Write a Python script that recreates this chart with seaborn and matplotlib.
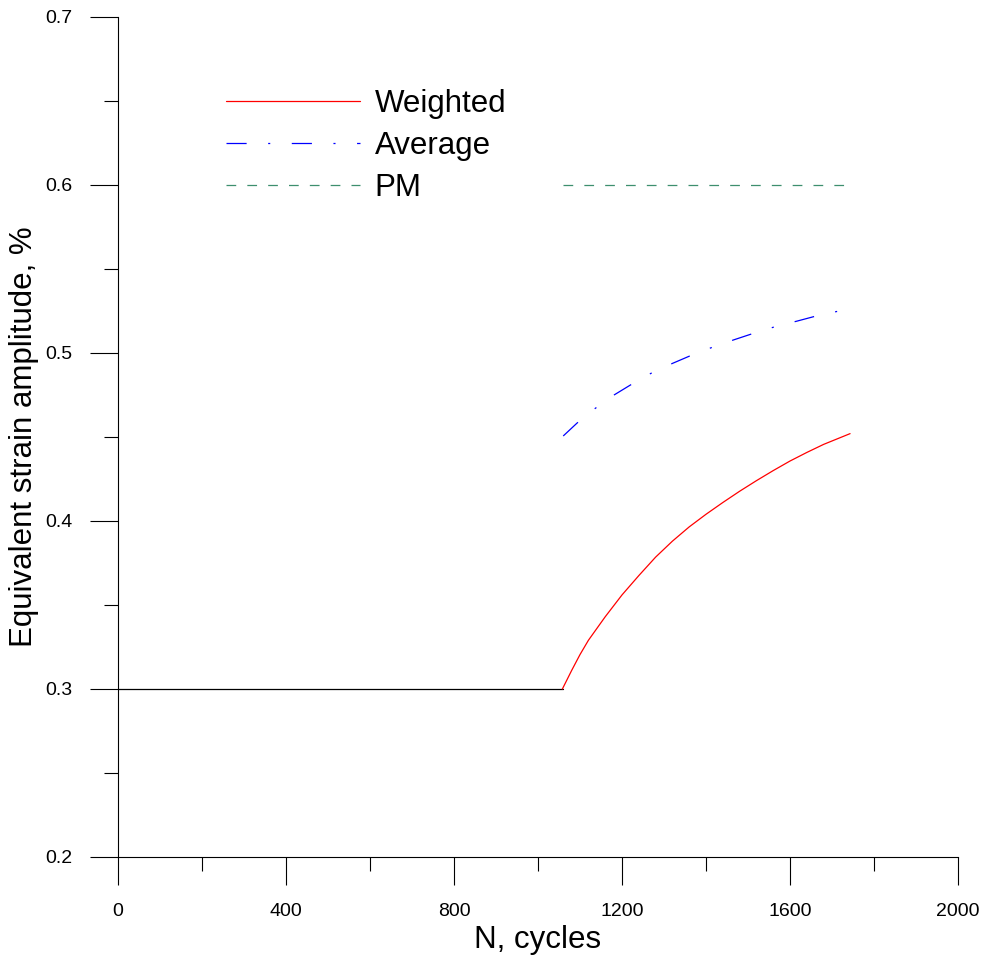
import matplotlib
matplotlib.use("Agg")
import matplotlib.pyplot as plt
import seaborn as sns
import pandas as pd
from matplotlib.ticker import MultipleLocator

# Data
base_n = [0, 1060]
base_strain = [0.3, 0.3]

weighted_n = [1058, 1080, 1100, 1120, 1140, 1160, 1200, 1240, 1280, 1320, 1360, 1400,
              1440, 1480, 1520, 1560, 1600, 1640, 1680, 1743]
weighted_strain = [0.300, 0.311, 0.3205, 0.329, 0.336, 0.343, 0.356, 0.3675, 0.3785, 0.3880, 0.3965, 0.404,
                   0.411, 0.4177, 0.4240, 0.4300, 0.4357, 0.4408, 0.4456, 0.452]

average_n = [1060, 1093, 1136, 1181, 1223, 1269, 1320, 1363, 1414, 1467,
             1513, 1565, 1617, 1665, 1717, 1740]
average_strain = [0.4506, 0.4583, 0.4670, 0.4750, 0.4814, 0.4879, 0.4938, 0.4984, 0.5033, 0.5079,
                  0.5117, 0.5157, 0.5190, 0.5222, 0.5250, 0.5260]

pm_n = [1060, 1740]
pm_strain = [0.6, 0.6]

sns.set_style("ticks")
plt.rcParams['font.family'] = ['Liberation Sans', 'DejaVu Sans']
plt.rcParams['lines.scale_dashes'] = False
plt.rcParams['text.color'] = 'black'
plt.rcParams['axes.labelcolor'] = 'black'
plt.rcParams['xtick.color'] = 'black'
plt.rcParams['ytick.color'] = 'black'

fig = plt.figure(figsize=(9.9, 9.6), dpi=100)
ax = fig.add_axes([0.1192, 0.1073, 0.8485, 0.875])

base_df = pd.DataFrame({"N": base_n, "strain": base_strain})
weighted_df = pd.DataFrame({"N": weighted_n, "strain": weighted_strain})
average_df = pd.DataFrame({"N": average_n, "strain": average_strain})
pm_df = pd.DataFrame({"N": pm_n, "strain": pm_strain})

sns.lineplot(data=base_df, x="N", y="strain", ax=ax, color="black", linewidth=0.9)
sns.lineplot(data=weighted_df, x="N", y="strain", ax=ax, color="red", linewidth=0.9,
             label="Weighted")
sns.lineplot(data=average_df, x="N", y="strain", ax=ax, color="blue", linewidth=0.9,
             linestyle=(0, (14.5, 15.5, 1.5, 15.5)), label="Average")
sns.lineplot(data=pm_df, x="N", y="strain", ax=ax, color="#3d8f6e", linewidth=0.9,
             linestyle=(0, (7, 8)), label="PM")

ax.set_xlim(0, 2000)
ax.set_ylim(0.2, 0.7)
ax.xaxis.set_major_locator(MultipleLocator(400))
ax.xaxis.set_minor_locator(MultipleLocator(200))
ax.yaxis.set_major_locator(MultipleLocator(0.1))
ax.yaxis.set_minor_locator(MultipleLocator(0.05))
ax.set_xticklabels([f"{int(v)}" for v in ax.get_xticks()])
ax.set_yticklabels([f"{v:.1f}" for v in ax.get_yticks()])

ax.tick_params(which="major", direction="out", length=20, width=0.8, color="black",
               labelsize=14, pad=13)
ax.tick_params(which="minor", direction="out", length=10, width=0.8, color="black")
for side in ["top", "right"]:
    ax.spines[side].set_visible(False)
for side in ["left", "bottom"]:
    ax.spines[side].set_linewidth(0.8)
    ax.spines[side].set_color("black")

ax.set_xlabel("N, cycles", fontsize=22.5, labelpad=4)
ax.set_ylabel("Equivalent strain amplitude, %", fontsize=22.5, labelpad=4)

ax.legend(loc="upper left", bbox_to_anchor=(0.1286, 0.914), frameon=False,
          fontsize=22.5, handlelength=4.3, handletextpad=0.45, labelspacing=0.38,
          borderpad=0, borderaxespad=0)

fig.savefig("out.png", dpi=100)
